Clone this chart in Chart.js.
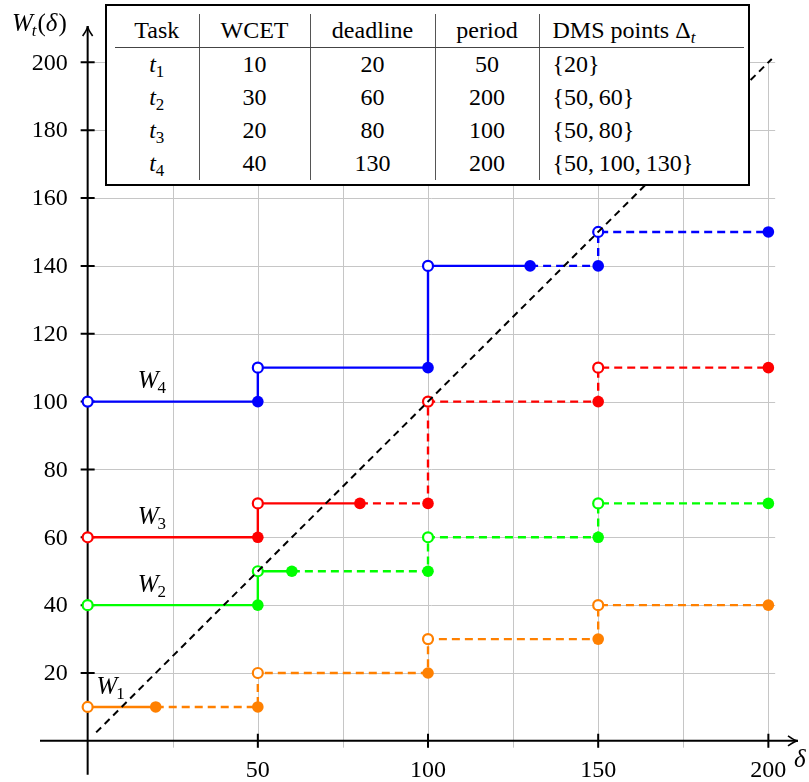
<!DOCTYPE html>
<html>
<head>
<meta charset="utf-8">
<script src="https://cdn.jsdelivr.net/npm/chart.js@4.4.0/dist/chart.umd.min.js"></script>
<style>
  html, body { margin: 0; padding: 0; background: #fff; }
  #wrap { position: relative; width: 809px; height: 782px; }
  #box { position: absolute; left: 105px; top: 4px; width: 641px; height: 178px; border: 2px solid #000; background: #fff; }
  table { border-collapse: collapse; table-layout: fixed; margin: 8px 0 0 8px; width: 629px;
          font-family: "Times New Roman", "Liberation Serif", Times, "DejaVu Serif", serif; font-size: 24px; color: #000; }
  th, td { font-weight: normal; text-align: center; padding: 0; height: 33px; line-height: 33px; white-space: nowrap; }
  th { border-bottom: 1.5px solid #444; }
  th + th, td + td { border-left: 1px solid #555; }
  th:last-child, td:last-child { text-align: left; padding-left: 13px; }
  sub { font-size: 17px; line-height: 0; vertical-align: -5px; }
</style>
</head>
<body>
<div id="wrap">
  <canvas id="chart" width="809" height="782"></canvas>
  <div id="box"><table id="tasks"></table></div>
</div>
<script>
// step breakpoints shared by all W_t curves
const stepX = [0, 50, 100, 150, 200];
const w1 = [10, 20, 30, 40];
const w2 = [40, 50, 60, 70];
const w3 = [60, 70, 100, 110];
const w4 = [100, 110, 140, 150];
const curves = [w1, w2, w3, w4];
const colors = ['#ff8000', '#00ff00', '#ff0000', '#0000ff'];

// table
const taskIds = [1, 2, 3, 4];
const wcet = [10, 30, 20, 40];
const deadline = [20, 60, 80, 130];
const period = [50, 200, 100, 200];
const dmsPoints = [[20], [50, 60], [50, 80], [50, 100, 130]];

// axes
const diagonal = [2.5, 201];
const xTicks = [50, 100, 150, 200];
const yTicks = [20, 40, 60, 80, 100, 120, 140, 160, 180, 200];
const xGrid = [25, 50, 75, 100, 125, 150, 175, 200];

// label anchors (data units)
const labelPos = [[2.6, 13.8], [14.7, 44], [14.7, 64], [14.7, 104]];

const FONT = '"Times New Roman", "Liberation Serif", Times, "DejaVu Serif", serif';

// ---- table ----
(function buildTable() {
  const t = document.getElementById('tasks');
  let html = '<colgroup><col style="width:84px"><col style="width:111px"><col style="width:125px"><col style="width:104px"><col style="width:205px"></colgroup>';
  html += '<tr><th>Task</th><th>WCET</th><th>deadline</th><th>period</th><th>DMS points &Delta;<sub><i>t</i></sub></th></tr>';
  taskIds.forEach((id, i) => {
    html += `<tr><td><i>t</i><sub>${id}</sub></td><td>${wcet[i]}</td><td>${deadline[i]}</td><td>${period[i]}</td>` +
      `<td>{${dmsPoints[i].join(',&thinsp;')}}</td></tr>`;
  });
  t.innerHTML = html;
})();

// ---- step paths ----
function stepPath(v) {
  const pts = [];
  v.forEach((y, i) => { pts.push({ x: stepX[i], y }); pts.push({ x: stepX[i + 1], y }); });
  return pts;
}

function splitPath(pts, e) {
  for (let k = 0; k < pts.length - 1; k++) {
    const a = pts[k], b = pts[k + 1];
    if (a.y === b.y && a.x <= e && e <= b.x) {
      const mid = { x: e, y: a.y };
      return { solid: pts.slice(0, k + 1).concat(mid), dashed: [mid].concat(pts.slice(k + 1)) };
    }
  }
  return { solid: pts, dashed: [] };
}

const datasets = [];
curves.forEach((v, i) => {
  const last = dmsPoints[i][dmsPoints[i].length - 1];
  const parts = splitPath(stepPath(v), last);
  const col = colors[i];
  const line = { showLine: true, borderColor: col, borderWidth: 2.4, pointRadius: 0, fill: false, tension: 0, clip: false, order: 3 };
  datasets.push(Object.assign({}, line, { data: parts.solid }));
  datasets.push(Object.assign({}, line, { data: parts.dashed, borderDash: [8, 5] }));
  const open = v.map((y, j) => ({ x: stepX[j], y }));
  const filled = v.map((y, j) => ({ x: stepX[j + 1], y }));
  filled.push({ x: last, y: parts.dashed[0].y });
  datasets.push({ data: open, showLine: false, pointRadius: 5, pointBackgroundColor: '#fff', pointBorderColor: col, pointBorderWidth: 2.2, clip: false, order: 2 });
  datasets.push({ data: filled, showLine: false, pointRadius: 5.8, pointBackgroundColor: col, pointBorderWidth: 0, clip: false, order: 2 });
});
datasets.push({
  data: diagonal.map(d => ({ x: d, y: d })), showLine: true, borderColor: '#000', borderWidth: 2,
  borderDash: [7, 5], pointRadius: 0, clip: false, order: 1
});

function arrow(ctx, x, y, dx, dy) {
  const L = 10, W = 5;
  const nx = -dy, ny = dx;
  ctx.beginPath();
  ctx.moveTo(x - dx * L + nx * W, y - dy * L + ny * W);
  ctx.quadraticCurveTo(x - dx * 3, y - dy * 3, x, y);
  ctx.quadraticCurveTo(x - dx * 3, y - dy * 3, x - dx * L - nx * W, y - dy * L - ny * W);
  ctx.stroke();
}

function drawW(ctx, x, y, sub) {
  ctx.font = 'italic 25px ' + FONT;
  ctx.textAlign = 'left';
  ctx.textBaseline = 'alphabetic';
  ctx.fillText('W', x, y);
  const w = ctx.measureText('W').width;
  ctx.font = (typeof sub === 'number' ? '' : 'italic ') + '17px ' + FONT;
  ctx.fillText(String(sub), x + w - 1, y + 5);
  return x + w - 1 + ctx.measureText(String(sub)).width;
}

const axesPlugin = {
  id: 'axes',
  beforeDatasetsDraw(chart) {
    const { ctx, scales: { x, y } } = chart;
    const px = v => x.getPixelForValue(v), py = v => y.getPixelForValue(v);
    ctx.save();
    ctx.strokeStyle = '#c6c6c6';
    ctx.lineWidth = 1;
    ctx.beginPath();
    xGrid.forEach(g => { const X = Math.round(px(g)) + 0.5; ctx.moveTo(X, py(-2)); ctx.lineTo(X, py(200)); });
    yTicks.forEach(g => { const Y = Math.round(py(g)) + 0.5; ctx.moveTo(px(0), Y); ctx.lineTo(px(202), Y); });
    ctx.stroke();

    ctx.strokeStyle = '#000';
    ctx.lineWidth = 2;
    ctx.beginPath();
    ctx.moveTo(x.left, py(0)); ctx.lineTo(x.right - 1, py(0));
    ctx.moveTo(px(0), y.bottom); ctx.lineTo(px(0), y.top + 1);
    xTicks.forEach(t => { ctx.moveTo(px(t), py(0) - 7); ctx.lineTo(px(t), py(0) + 7); });
    yTicks.forEach(t => { ctx.moveTo(px(0) - 7, py(t)); ctx.lineTo(px(0) + 7, py(t)); });
    ctx.stroke();
    ctx.lineWidth = 1.6;
    arrow(ctx, x.right - 1, py(0), 1, 0);
    arrow(ctx, px(0), y.top + 1, 0, -1);

    ctx.fillStyle = '#000';
    ctx.font = '24px ' + FONT;
    ctx.textAlign = 'right';
    ctx.textBaseline = 'middle';
    yTicks.forEach(t => ctx.fillText(String(t), px(0) - 20, py(t) + 1));
    ctx.textAlign = 'center';
    ctx.textBaseline = 'alphabetic';
    xTicks.forEach(t => ctx.fillText(String(t), px(t), 777));
    ctx.restore();
  },
  afterDraw(chart) {
    const { ctx, scales: { x, y } } = chart;
    ctx.save();
    ctx.fillStyle = '#000';
    labelPos.forEach((p, i) => drawW(ctx, x.getPixelForValue(p[0]), y.getPixelForValue(p[1]), i + 1));
    // axis titles
    let xe = drawW(ctx, 12, 31, 't');
    ctx.font = '25px ' + FONT;
    ctx.fillText('(', xe + 1, 31);
    xe += 1 + ctx.measureText('(').width;
    ctx.font = 'italic 25px ' + FONT;
    ctx.fillText('\u03B4', xe, 31);
    xe += ctx.measureText('\u03B4').width;
    ctx.font = '25px ' + FONT;
    ctx.fillText(')', xe + 1, 31);
    ctx.font = 'italic 25px ' + FONT;
    ctx.fillText('\u03B4', 794, 767);
    ctx.restore();
  }
};

new Chart(document.getElementById('chart'), {
  type: 'scatter',
  data: { datasets },
  options: {
    responsive: false,
    animation: false,
    events: [],
    layout: { padding: { left: 40, right: 10, top: 25, bottom: 6 } },
    plugins: { legend: { display: false }, tooltip: { enabled: false } },
    scales: {
      x: { type: 'linear', min: -14, max: 209, display: false },
      y: { type: 'linear', min: -10, max: 211, display: false }
    }
  },
  plugins: [axesPlugin]
});
</script>
</body>
</html>
